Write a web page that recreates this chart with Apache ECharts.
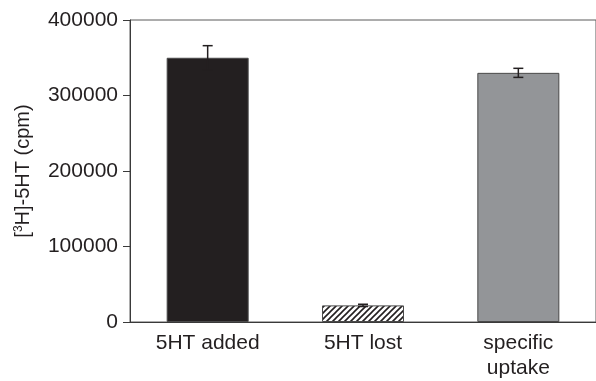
<!DOCTYPE html>
<html>
<head>
<meta charset="utf-8">
<script src="https://cdn.jsdelivr.net/npm/echarts@6/dist/echarts.min.js"></script>
<style>
  html, body { margin: 0; padding: 0; background: #fff; }
  #chart { width: 596px; height: 381px; }
</style>
</head>
<body>
<div id="chart"></div>
<script>
var categories = ['5HT added', '5HT lost', 'specific\nuptake'];
var values = [350000, 22000, 330000];
var errors = [16000, 1500, 6000];
var yTicks = [0, 100000, 200000, 300000, 400000];

// hatch pattern for the middle bar
function hatch() {
    var c = document.createElement('canvas');
    c.width = 6;
    c.height = 6;
    var ctx = c.getContext('2d');
    ctx.fillStyle = '#fff';
    ctx.fillRect(0, 0, 6, 6);
    ctx.strokeStyle = '#231f20';
    ctx.lineWidth = 1.6;
    ctx.beginPath();
    ctx.moveTo(-1, 7); ctx.lineTo(7, -1);
    ctx.moveTo(-4, 4); ctx.lineTo(4, -4);
    ctx.moveTo(2, 10); ctx.lineTo(10, 2);
    ctx.stroke();
    return c;
}

var barColors = ['#231f20', { image: hatch(), repeat: 'repeat' }, '#939598'];

var barData = values.map(function (v, i) {
    return {
        value: v,
        itemStyle: { color: barColors[i], borderColor: '#4a4a4a', borderWidth: 1 }
    };
});

var errData = values.map(function (v, i) {
    return [i, v - errors[i], v + errors[i]];
});

var myChart = echarts.init(document.getElementById('chart'));

var option = {
    animation: false,
    grid: {
        left: 130,
        right: -5,
        top: 20,
        bottom: 57,
        show: true,
        borderColor: '#5a5a5a',
        borderWidth: 1
    },
    xAxis: {
        type: 'category',
        data: categories,
        axisLine: { lineStyle: { color: '#3a3a3a', width: 1 } },
        axisTick: { alignWithLabel: false, length: 7, lineStyle: { color: '#3a3a3a' } },
        axisLabel: {
            color: '#231f20',
            fontFamily: 'Liberation Sans',
            fontSize: 21,
            margin: 9,
            lineHeight: 25
        }
    },
    yAxis: {
        type: 'value',
        min: yTicks[0],
        max: yTicks[yTicks.length - 1],
        interval: 100000,
        splitLine: { show: false },
        axisLine: { show: true, lineStyle: { color: '#3a3a3a', width: 1 } },
        axisTick: { show: true, length: 7, lineStyle: { color: '#3a3a3a' } },
        axisLabel: {
            color: '#231f20',
            fontFamily: 'Liberation Sans',
            fontSize: 21,
            margin: 12,
            formatter: function (v) { return String(v); }
        },
        name: '[{sup|3}H]-5HT (cpm)',
        nameLocation: 'middle',
        nameRotate: 90,
        nameGap: 96,
        nameTextStyle: {
            color: '#231f20',
            fontFamily: 'Liberation Sans',
            fontSize: 20,
            rich: {
                sup: { fontSize: 12, fontFamily: 'Liberation Sans', color: '#231f20', padding: [0, 0, 9, 0] }
            }
        }
    },
    series: [
        {
            type: 'bar',
            data: barData,
            barWidth: 82
        },
        {
            type: 'custom',
            data: errData,
            z: 3,
            renderItem: function (params, api) {
                var x = api.value(0);
                var lo = api.coord([x, api.value(1)]);
                var hi = api.coord([x, api.value(2)]);
                var w = 5;
                var style = { stroke: '#231f20', lineWidth: 1.5 };
                return {
                    type: 'group',
                    children: [
                        { type: 'line', shape: { x1: lo[0], y1: lo[1], x2: hi[0], y2: hi[1] }, style: style },
                        { type: 'line', shape: { x1: hi[0] - w, y1: hi[1], x2: hi[0] + w, y2: hi[1] }, style: style },
                        { type: 'line', shape: { x1: lo[0] - w, y1: lo[1], x2: lo[0] + w, y2: lo[1] }, style: style }
                    ]
                };
            }
        }
    ]
};

myChart.setOption(option);
</script>
</body>
</html>
